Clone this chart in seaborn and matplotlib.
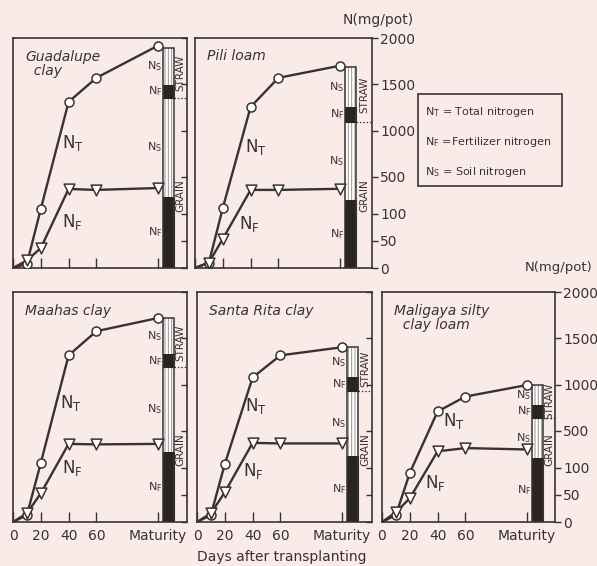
import numpy as np
import pandas as pd
import matplotlib
matplotlib.use("Agg")
import matplotlib.pyplot as plt
import seaborn as sns
from matplotlib.patches import Rectangle

# ---------------- data ----------------
days = [0, 10, 20, 40, 60, 104]
x_ticks = [0, 20, 40, 60, 104]
x_tick_labels = ["0", "20", "40", "60", "Maturity"]
y_ticks = [0, 50, 100, 500, 1000, 1500, 2000]
y_tick_labels = ["0", "50", "100", "500", "1000", "1500", "2000"]

soils = ["Guadalupe\n  clay", "Pili loam", "Maahas clay", "Santa Rita clay",
         "Maligaya silty\n  clay loam"]

nt_guadalupe = [0, 8, 155, 1310, 1570, 1915]
nf_guadalupe = [0, 14, 37, 370, 360, 380]
nt_pili = [0, 10, 165, 1255, 1570, 1700]
nf_pili = [0, 10, 54, 360, 360, 372]
nt_maahas = [0, 13, 154, 1316, 1577, 1718]
nf_maahas = [0, 16, 53, 360, 355, 360]
nt_santarita = [0, 13, 143, 1077, 1316, 1403]
nf_santarita = [0, 16, 55, 371, 365, 365]
nt_maligaya = [0, 13, 91, 710, 871, 995]
nf_maligaya = [0, 18, 44, 280, 315, 300]

# bar at maturity: cumulative tops of grain N_F, grain total, straw N_F top, total
grain_nf = [284, 251, 274, 230, 209]
grain_total = [1353, 1093, 1190, 936, 640]
straw_nf_top = [1493, 1255, 1327, 1077, 784]
bar_total = [1893, 1687, 1718, 1403, 1000]

nt_series = [nt_guadalupe, nt_pili, nt_maahas, nt_santarita, nt_maligaya]
nf_series = [nf_guadalupe, nf_pili, nf_maahas, nf_santarita, nf_maligaya]

# ---------------- layout ----------------
W, H = 597, 566
panel_px = [(13, 38, 187, 268), (195, 38, 372, 268),
            (13, 292, 187, 522), (197, 292, 372, 522), (382, 292, 555, 522)]
px_per_day = 1.39
label_nt_pos = [(35, 870), (36, 820), (34, 806), (34.5, 770), (44, 610)]
label_nf_pos = [(35, 85), (32, 81), (35, 104), (33, 95), (31, 73)]
right_labels = [False, True, False, False, True]
bottom_labels = [False, False, True, True, True]
bar_center, bar_width = 112, 8

sns.set_theme(style="white")
plt.rcParams["font.family"] = ["DejaVu Sans"]
plt.rcParams["mathtext.default"] = "regular"
plt.rcParams["hatch.linewidth"] = 0.7

BG = "#f9ebe8"
INK = "#3a3232"
DARK = "#2a2323"
STRIPE = "#9a9090"

r = 0.1715


def fwd(y):
    y = np.asarray(y, dtype=float)
    return np.where(y <= 100, y, 100 + (y - 100) * r)


def inv(y):
    y = np.asarray(y, dtype=float)
    return np.where(y <= 100, y, 100 + (y - 100) / r)


fig = plt.figure(figsize=(W / 100, H / 100), dpi=100, facecolor=BG)

for i, (x0, y0, x1, y1) in enumerate(panel_px):
    ax = fig.add_axes([x0 / W, 1 - y1 / H, (x1 - x0) / W, (y1 - y0) / H])
    ax.set_facecolor("none")
    xmax = (x1 - x0) / px_per_day
    ax.set_yscale("function", functions=(fwd, inv))
    ax.set_xlim(0, xmax)
    ax.set_ylim(0, 2000)

    # stacked bar at maturity
    b0 = bar_center
    ax.bar(b0, grain_nf[i], width=bar_width, bottom=0, color=DARK, edgecolor=DARK, lw=0.8, zorder=2)
    ax.bar(b0, grain_total[i] - grain_nf[i], width=bar_width, bottom=grain_nf[i],
           color="white", edgecolor=STRIPE, hatch="|||||", lw=0, zorder=2)
    ax.bar(b0, straw_nf_top[i] - grain_total[i], width=bar_width, bottom=grain_total[i],
           color=DARK, edgecolor=DARK, lw=0.8, zorder=2)
    ax.bar(b0, bar_total[i] - straw_nf_top[i], width=bar_width, bottom=straw_nf_top[i],
           color="white", edgecolor=STRIPE, hatch="|||||", lw=0, zorder=2)
    ax.bar(b0, bar_total[i], width=bar_width, bottom=0, fill=False, edgecolor=INK, lw=1.1, zorder=3)

    bl = b0 - bar_width / 2
    br = b0 + bar_width / 2
    # dotted grain/straw divider
    ax.plot([br, xmax], [grain_total[i], grain_total[i]], ls=(0, (1.2, 1.5)), color=INK, lw=0.9)

    segs = [(0, grain_nf[i], "N$_F$"), (grain_nf[i], grain_total[i], "N$_S$"),
            (grain_total[i], straw_nf_top[i], "N$_F$"), (straw_nf_top[i], bar_total[i], "N$_S$")]
    for lo, hi, lab in segs:
        ymid = float(inv((fwd(lo) + fwd(hi)) / 2))
        ax.text(bl - 0.8, ymid, lab, ha="right", va="center", fontsize=8, color=INK)

    sx = (br + xmax) / 2
    ax.text(sx, float(inv((fwd(grain_total[i]) + fwd(bar_total[i])) / 2)), "STRAW",
            rotation=90, ha="center", va="center", fontsize=7.5, color=INK)
    ax.text(sx, 300, "GRAIN", rotation=90, ha="center", va="center", fontsize=7.5, color=INK)

    # curves
    df = pd.DataFrame({"day": days, "NT": nt_series[i], "NF": nf_series[i]})
    for col, mk, ms in [("NT", "o", 42), ("NF", "v", 60)]:
        sns.lineplot(data=df, x="day", y=col, ax=ax, color=INK, lw=1.7,
                     estimator=None, sort=False, zorder=4)
        sns.scatterplot(data=df.iloc[1:], x="day", y=col, ax=ax, marker=mk, s=ms,
                        color="white", edgecolor=INK, linewidth=1.1, zorder=5)

    ax.text(*label_nt_pos[i], "N$_T$", fontsize=12, color=INK, ha="left", va="center")
    ax.text(*label_nf_pos[i], "N$_F$", fontsize=12, color=INK, ha="left", va="center")

    ax.text(0.07, 0.95, soils[i], transform=ax.transAxes, ha="left", va="top",
            fontsize=10, style="italic", color=INK, linespacing=1.05)

    # axes styling
    for sp in ax.spines.values():
        sp.set_visible(True)
        sp.set_color(INK)
        sp.set_linewidth(1.2)
    ax.set_xlabel("")
    ax.set_ylabel("")
    ax.set_xticks(x_ticks)
    ax.set_xticklabels(x_tick_labels if bottom_labels[i] else [])
    ax.tick_params(axis="x", direction="in", length=7, width=1, colors=INK,
                   labelsize=10, pad=5, bottom=True, labelbottom=bottom_labels[i])
    ax.yaxis.tick_right()
    ax.set_yticks(y_ticks)
    ax.set_yticklabels(y_tick_labels if right_labels[i] else [])
    ax.yaxis.set_minor_locator(matplotlib.ticker.NullLocator())
    ax.tick_params(axis="y", which="both", direction="out" if right_labels[i] else "in",
                   length=4, width=1, colors=INK, labelsize=10, pad=2,
                   left=False, right=True, labelright=right_labels[i])

# axis unit labels
fig.text(343 / W, 1 - 20 / H, "N(mg/pot)", ha="left", va="center", fontsize=10, color=INK)
fig.text(593 / W, 1 - 267 / H, "N(mg/pot)", ha="right", va="center", fontsize=9.5, color=INK)
fig.text(282 / W, 1 - 557 / H, "Days after transplanting", ha="center", va="center",
         fontsize=10, color=INK)

# legend box
fig.add_artist(Rectangle((418 / W, 1 - 186 / H), 144 / W, 92 / H, transform=fig.transFigure,
                         fill=False, edgecolor=INK, lw=1.2))
legend_lines = ["N$_T$ = Total nitrogen", "N$_F$ =Fertilizer nitrogen", "N$_S$ = Soil nitrogen"]
for txt, ypx in zip(legend_lines, [112, 142, 172]):
    fig.text(425 / W, 1 - ypx / H, txt, ha="left", va="center", fontsize=8, color=INK)

fig.savefig("out.png", dpi=100, facecolor=BG)
